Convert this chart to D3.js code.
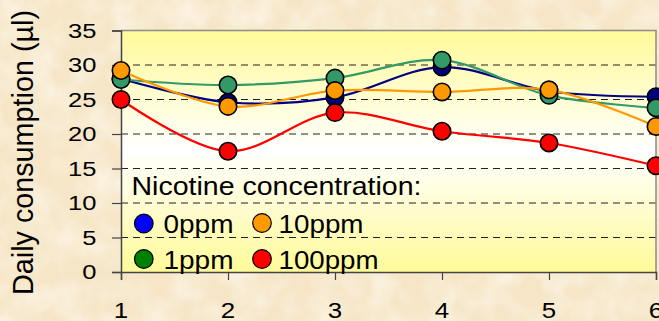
<!DOCTYPE html>
<html>
<head>
<meta charset="utf-8">
<script src="https://cdn.jsdelivr.net/npm/d3@7"></script>
<style>
html,body{margin:0;padding:0;background:#f7e9cd;overflow:hidden;}
svg{display:block;}
text{font-family:"Liberation Sans",Arial,Helvetica,sans-serif;fill:#000;}
</style>
</head>
<body>
<svg id="chart" width="659" height="321"></svg>
<script>
// ---- data ----
const days = [1, 2, 3, 4, 5, 6];
const seriesNames = ["0ppm", "1ppm", "10ppm", "100ppm"];
const values0ppm   = [28.0, 24.6, 25.3, 29.7, 26.2, 25.4];
const values1ppm   = [27.9, 27.1, 28.1, 30.7, 25.6, 23.8];
const values10ppm  = [29.2, 24.0, 26.3, 26.1, 26.4, 21.1];
const values100ppm = [25.0, 17.5, 23.1, 20.4, 18.7, 15.4];
const yTicks = [0, 5, 10, 15, 20, 25, 30, 35];
const xTicks = [1, 2, 3, 4, 5, 6];
const yLabel = "Daily consumption (\u00b5l)";
const legendTitle = "Nicotine concentration:";

(function () {
// ---- styles ----
const lineColors   = ["#000080", "#339966", "#ff9900", "#ff0000"];
const markerColors = ["#000080", "#339966", "#ff9900", "#ff0000"];
const legendColors = ["#0000ff", "#008000", "#ff9900", "#ff0000"];

const svg = d3.select("#chart");
const W = 659, H = 321;
const pl = 121, pr = 656, pt = 30.5, pb = 272;

const x = d3.scaleLinear().domain([1, 6]).range([pl, pr]);
const y = d3.scaleLinear().domain([0, 35]).range([pb, pt]);

const defs = svg.append("defs");
const f = defs.append("filter").attr("id", "paper").attr("x", 0).attr("y", 0).attr("width", "100%").attr("height", "100%");
f.append("feTurbulence").attr("type", "fractalNoise").attr("baseFrequency", "0.035").attr("numOctaves", 3).attr("seed", 4).attr("result", "noise");
f.append("feColorMatrix").attr("in", "noise").attr("type", "matrix")
  .attr("values", "0 0 0 0 1  0 0 0 0 0.975  0 0 0 0 0.92  0 0 0 -1.1 0.7");
const grad = defs.append("linearGradient").attr("id", "plotbg").attr("x1", 0).attr("y1", 0).attr("x2", 0).attr("y2", 1);
grad.append("stop").attr("offset", "0%").attr("stop-color", "#fffa99");
grad.append("stop").attr("offset", "50%").attr("stop-color", "#ffffff");
grad.append("stop").attr("offset", "100%").attr("stop-color", "#fffa99");

svg.append("rect").attr("width", W).attr("height", H).attr("fill", "#f6e6c7");
svg.append("rect").attr("width", W).attr("height", H).attr("filter", "url(#paper)");

svg.append("rect").attr("x", pl).attr("y", pt).attr("width", pr - pl).attr("height", pb - pt)
  .attr("fill", "url(#plotbg)");

svg.append("g").selectAll("line").data(yTicks.filter(t => t > 0 && t < 35)).join("line")
  .attr("x1", pl).attr("x2", pr).attr("y1", d => y(d)).attr("y2", d => y(d))
  .attr("stroke", "#222").attr("stroke-width", 1).attr("stroke-dasharray", "7,5");

svg.append("path").attr("d", `M${pl},${pt}H${pr}V${pb}`).attr("fill", "none")
  .attr("stroke", "#8c8c8c").attr("stroke-width", 1.5);

const yAxis = d3.axisLeft(y).tickValues(yTicks).tickSize(9).tickFormat("");
const gy = svg.append("g").attr("transform", `translate(${pl},0)`).call(yAxis);
gy.select(".domain").attr("stroke", "#444").attr("stroke-width", 1.5);
gy.selectAll(".tick line").attr("stroke", "#444").attr("stroke-width", 1.2);
svg.append("g").selectAll("text").data(yTicks).join("text")
  .attr("x", d => 96.5 - 14.2 * String(d).length)
  .attr("y", d => y(d) + 7)
  .attr("font-size", 20)
  .attr("textLength", d => 14.2 * String(d).length)
  .attr("lengthAdjust", "spacingAndGlyphs")
  .text(d => d);

const xAxis = d3.axisBottom(x).tickValues(xTicks).tickSize(8).tickFormat("");
const gx = svg.append("g").attr("transform", `translate(0,${pb})`).call(xAxis);
gx.select(".domain").attr("stroke", "#444").attr("stroke-width", 1.5);
gx.selectAll(".tick line").attr("stroke", "#444").attr("stroke-width", 1.2);
svg.append("g").selectAll("text").data(xTicks).join("text")
  .attr("x", d => x(d) - 7.2)
  .attr("y", 317.5)
  .attr("font-size", 22)
  .attr("textLength", 14.4)
  .attr("lengthAdjust", "spacingAndGlyphs")
  .text(d => d);

svg.append("text")
  .attr("transform", "translate(33,152.5) rotate(-90)")
  .attr("text-anchor", "middle")
  .attr("font-size", 30)
  .attr("textLength", 285)
  .attr("lengthAdjust", "spacingAndGlyphs")
  .text(yLabel);

const allValues = [values0ppm, values1ppm, values10ppm, values100ppm];
const line = d3.line().x((d, i) => x(days[i])).y(d => y(d)).curve(d3.curveCatmullRom.alpha(0.5));

allValues.forEach((vals, si) => {
  const g = svg.append("g");
  g.append("path").datum(vals).attr("d", line).attr("fill", "none")
    .attr("stroke", lineColors[si]).attr("stroke-width", 2.2);
  g.selectAll("circle").data(vals).join("circle")
    .attr("cx", (d, i) => x(days[i])).attr("cy", d => y(d)).attr("r", 8.7)
    .attr("fill", markerColors[si]).attr("stroke", "#000").attr("stroke-width", 1.6);
});

svg.append("text").attr("x", 131.5).attr("y", 195).attr("font-size", 26)
  .attr("textLength", 290).attr("lengthAdjust", "spacingAndGlyphs").text(legendTitle);
const legendPos = [
  {cx: 143.8, cy: 223.5, tx: 163.5, ty: 233, len: 70},
  {cx: 143.8, cy: 259,   tx: 163.5, ty: 268.5, len: 70},
  {cx: 262,   cy: 223,   tx: 278.5, ty: 232.5, len: 85},
  {cx: 262,   cy: 259,   tx: 278.5, ty: 268.5, len: 100}
];
const lg = svg.append("g");
seriesNames.forEach((name, i) => {
  const p = legendPos[i];
  lg.append("circle").attr("cx", p.cx).attr("cy", p.cy).attr("r", 9.3)
    .attr("fill", legendColors[i]).attr("stroke", "#000").attr("stroke-width", 1.2);
  lg.append("text").attr("x", p.tx).attr("y", p.ty).attr("font-size", 26)
    .attr("textLength", p.len).attr("lengthAdjust", "spacingAndGlyphs").text(name);
});
})();
</script>
</body>
</html>
